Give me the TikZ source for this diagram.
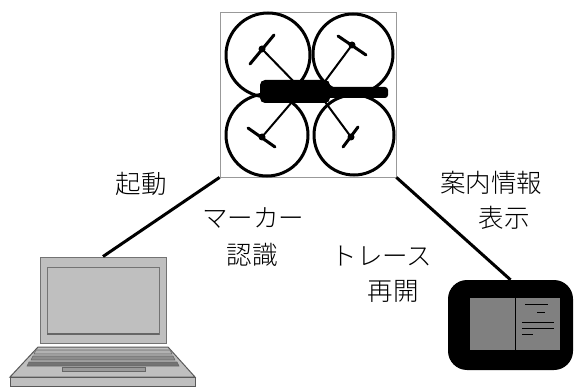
\documentclass[tikz,border=0pt]{standalone}
\usepackage{fontspec}
\newfontfamily\jpfont{Noto Sans CJK JP Light}
\begin{document}
\begin{tikzpicture}[x=1pt,y=-1pt,
  lbl/.style={font=\jpfont\fontsize{25.5}{28}\selectfont, inner sep=0pt, text=black},
  link/.style={line width=3pt, black},
  rotor/.style={line width=3pt, black},
  arm/.style={line width=2pt, black},
  blade/.style={line width=3pt, black, line cap=round},
  lapfill/.style={fill=black!25, draw=black!55, line width=1pt},
  keyrow/.style={fill=black!45, draw=black!60, line width=0.6pt}]
\useasboundingbox (0,0) rectangle (580,387);

% --- quadcopter in its frame ---
\node[draw=black!40, line width=0.8pt, minimum width=176pt, minimum height=165pt, inner sep=0pt] (drone) at (308,94.5) {};
\draw[rotor] (268,55) circle (42);
\draw[rotor] (353,54) circle (40);
\draw[rotor] (267,135) circle (41);
\draw[rotor] (354,135) circle (40);
% arms from hubs to the body
\coordinate (hubA) at (262,49);
\coordinate (hubB) at (352,45);
\coordinate (hubC) at (262,137);
\coordinate (hubD) at (351,137);
\draw[arm] (hubA) -- (300,88);
\draw[arm] (hubB) -- (320,88);
\draw[arm] (hubC) -- (298,95);
\draw[arm] (hubD) -- (320,95);
% blades across the hubs
\draw[blade] (250,64) -- (274,35);
\draw[blade] (338,36) -- (366,55);
\draw[blade] (248,128) -- (275,147);
\draw[blade] (343,147) -- (358,127);
\fill (hubA) circle (3.5);
\fill (hubB) circle (3.5);
\fill (hubC) circle (3.5);
\fill (hubD) circle (3.5);
% body
\fill[rounded corners=5pt] (260,80) rectangle (330,103);
\fill[rounded corners=3pt] (325,87) rectangle (388,98);

% --- laptop ---
\node[lapfill, minimum width=126pt, minimum height=86pt, inner sep=0pt] (laptop) at (103,300) {};
\draw[lapfill] (47,267) rectangle (159,334);
\draw[black!60, line width=1.6pt] (47,334) -- (159,334);
\draw[lapfill, draw=black!65] (38,347) -- (168,347) -- (195,377) -- (10,377) -- cycle;
\draw[lapfill, draw=black!65] (10,377) rectangle (195,386);
\draw[keyrow, fill=black!30] (36,350) -- (170,350) -- (172,354) -- (34,354) -- cycle;
\draw[keyrow] (33,356) -- (173,356) -- (175,360) -- (31,360) -- cycle;
\draw[keyrow, fill=black!55] (29,362) -- (177,362) -- (179,366) -- (27,366) -- cycle;
\draw[keyrow, fill=black!40] (62,367) rectangle (145,371);

% --- tablet ---
\node[fill=black, rounded corners=19pt, minimum width=125pt, minimum height=90pt, inner sep=0pt] (tablet) at (510.5,325) {};
\fill[black!50] (470,298) rectangle (560,350);
\draw[black, line width=1pt] (515,298) -- (515,350);
\draw[black, line width=1pt] (525,304) -- (548,304);
\draw[black, line width=1pt] (537,312) -- (545,312);
\draw[black, line width=1pt] (522,322) -- (554,322);
\draw[black, line width=1pt] (522,328) -- (554,328);
\draw[black, line width=1pt] (522,334) -- (533,334);

% --- connectors ---
\draw[link] (drone.south west) -- (laptop.north);
\draw[link] (drone.south east) -- (tablet.north);

% --- labels ---
\node[lbl] (start) at (141,184) {起動};
\node[lbl] (marker) at (253,218) {マーカー};
\node[lbl] (recog) at (252,255) {認識};
\node[lbl] (trace) at (382,256) {トレース};
\node[lbl] (resume) at (393,291) {再開};
\node[lbl] (guide) at (491,183) {案内情報};
\node[lbl] (show) at (504,218) {表示};
\end{tikzpicture}
\end{document}
